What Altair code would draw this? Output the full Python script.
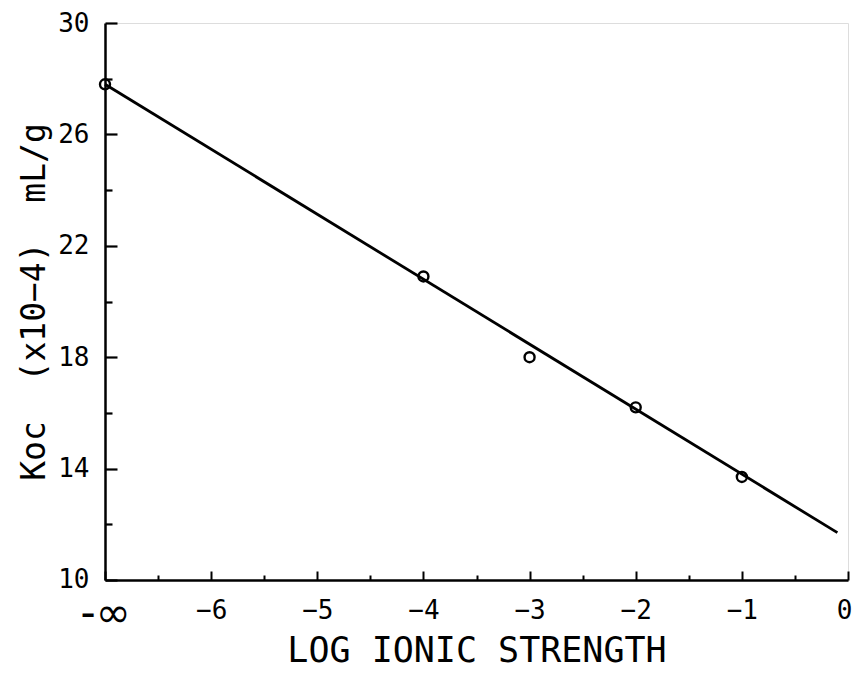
import altair as alt
import pandas as pd

# Measured data points
x_vals = [-7, -4, -3, -2, -1]
koc_vals = [27.8, 20.9, 18.0, 16.2, 13.7]

# Fitted line endpoints
fit_x = [-7.0, -0.1]
fit_y = [27.8, 11.7]

# Axis ticks
x_major = [-7, -6, -5, -4, -3, -2, -1, 0]
x_all_ticks = [-7, -6.5, -6, -5.5, -5, -4.5, -4, -3.5, -3, -2.5, -2, -1.5, -1, -0.5, 0]
y_major = [10, 14, 18, 22, 26, 30]
y_all_ticks = [10, 12, 14, 16, 18, 20, 22, 24, 26, 28, 30]

W, H = 743, 557
FONT = "DejaVu Sans Mono"
NB = "\u00a0"

pts = pd.DataFrame({"x": x_vals, "y": koc_vals})
fit = pd.DataFrame({"x": fit_x, "y": fit_y})

xs = alt.Scale(domain=[-7, 0], nice=False, zero=False)
ys = alt.Scale(domain=[10, 30], nice=False, zero=False)

IS_INF = "datum.value == -7"

line = alt.Chart(fit).mark_line(color="black", strokeWidth=2.8).encode(
    x=alt.X("x:Q", scale=xs, axis=alt.Axis(
        orient="bottom", values=x_major, title="LOG IONIC STRENGTH",
        labelExpr="datum.value == -7 ? '-∞' : datum.label",
        ticks=False, domainColor="black", domainWidth=2.5,
        labelColor="black", labelFlush=False, labelOverlap=False,
        labelFont={"condition": {"test": IS_INF, "value": "DejaVu Sans"}, "value": FONT},
        labelFontSize={"condition": {"test": IS_INF, "value": 42}, "value": 26},
        labelPadding={"condition": {"test": IS_INF, "value": 13}, "value": 17},
        labelOffset={"condition": {"test": "datum.value == 0", "value": -4},
                     "value": 0},
        titleFont=FONT, titleFontSize=35, titleFontWeight="normal",
        titleColor="black", titleBaseline="alphabetic", titleY=81, grid=False)),
    y=alt.Y("y:Q", scale=ys, axis=alt.Axis(
        orient="left", values=y_major, title=f"Koc{NB}{NB}(x10−4){NB}{NB}mL/g",
        ticks=False, domainColor="black", domainWidth=2.5,
        labelFont=FONT, labelFontSize=26, labelColor="black", labelPadding=16,
        labelFlush=False,
        labelOffset={"condition": {"test": "datum.value == 10", "value": -1}, "value": 0},
        titleFont=FONT, titleFontSize=33, titleFontWeight="normal",
        titleColor="black", titlePadding=6, grid=False)),
)

points = alt.Chart(pts).mark_point(
    shape="circle", filled=False, color="black", size=100, strokeWidth=2.4, opacity=1
).encode(
    x=alt.X("x:Q", scale=xs, axis=None),
    y=alt.Y("y:Q", scale=ys, axis=None),
)

xticks = alt.Chart(pts).mark_point(opacity=0).encode(
    x=alt.X("x:Q", scale=xs, axis=alt.Axis(
        orient="top", offset=-H, values=x_all_ticks, labels=False, domain=False,
        title=None, grid=False, tickColor="black", tickWidth=2,
        tickSize={"condition": {"test": "datum.value % 1 == 0", "value": 9}, "value": 5})),
    y=alt.Y("y:Q", scale=ys, axis=None),
)

yticks = alt.Chart(pts).mark_point(opacity=0).encode(
    x=alt.X("x:Q", scale=xs, axis=None),
    y=alt.Y("y:Q", scale=ys, axis=alt.Axis(
        orient="right", offset=-W, values=y_all_ticks, labels=False, domain=False,
        title=None, grid=False, tickColor="black", tickWidth=2.2,
        tickSize={"condition": {"test": "(datum.value - 10) % 4 == 0", "value": 12}, "value": 7})),
)

chart = alt.layer(line, points, xticks, yticks).resolve_axis(
    x="independent", y="independent"
).properties(
    width=W, height=H,
    autosize=alt.AutoSizeParams(type="none"),
    padding={"left": 97, "top": 15, "right": 4, "bottom": 90},
).configure_view(strokeWidth=0, stroke="transparent").configure(background="white")

chart.save("out.html", embed_options={"renderer": "svg", "actions": False})
